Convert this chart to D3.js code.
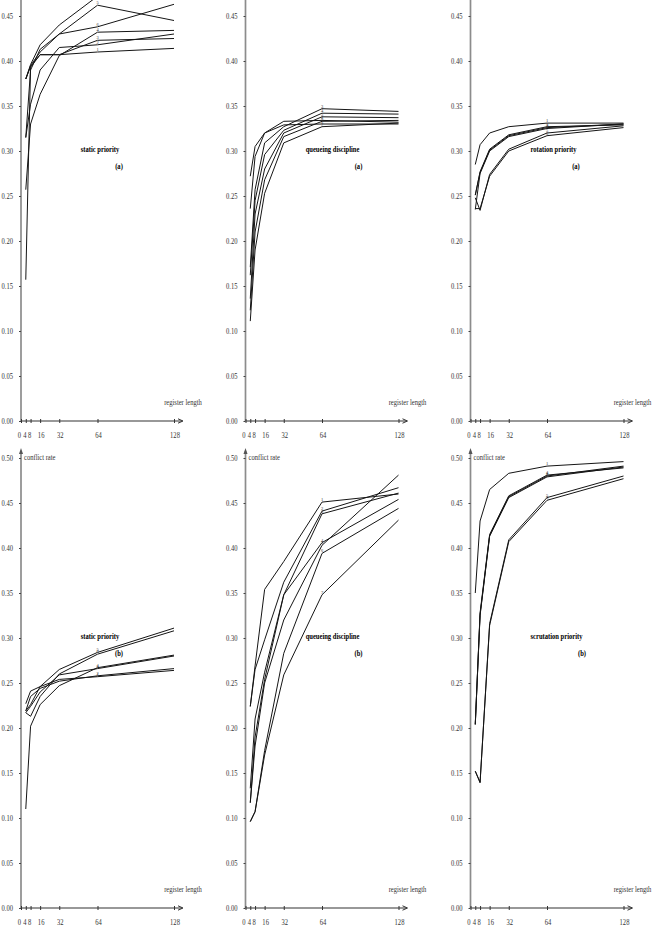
<!DOCTYPE html>
<html>
<head>
<meta charset="utf-8">
<script src="https://cdn.jsdelivr.net/npm/d3@7"></script>
<style>
  body { margin: 0; background: #fff; }
  svg { display: block; }
  text { font-family: "Liberation Serif", "Times New Roman", serif; -webkit-font-smoothing: antialiased; }
</style>
</head>
<body>
<script>
const width = 655;
const height = 943;

// register lengths at which every curve was measured
const registerLengths = [4, 8, 16, 32, 64, 128];
const xTickValues = [0, 4, 8, 16, 32, 64, 128];
const yTickValues = [0, 0.05, 0.10, 0.15, 0.20, 0.25, 0.30, 0.35, 0.40, 0.45, 0.50];

// conflict rate, one row per curve
const staticA = [
    [0.157, 0.393, 0.407, 0.407, 0.410, 0.414],
    [0.315, 0.352, 0.390, 0.415, 0.418, 0.430],
    [0.380, 0.394, 0.407, 0.407, 0.423, 0.425],
    [0.257, 0.330, 0.363, 0.406, 0.432, 0.434],
    [0.315, 0.390, 0.413, 0.430, 0.462, 0.445],
    [0.380, 0.395, 0.410, 0.430, 0.438, 0.463],
    [0.380, 0.396, 0.418, 0.440, 0.472, 0.490]
];
const queueA = [
    [0.272, 0.305, 0.320, 0.333, 0.334, 0.332],
    [0.236, 0.294, 0.320, 0.329, 0.330, 0.330],
    [0.171, 0.257, 0.309, 0.327, 0.347, 0.344],
    [0.162, 0.245, 0.296, 0.323, 0.342, 0.341],
    [0.136, 0.230, 0.280, 0.320, 0.338, 0.337],
    [0.123, 0.210, 0.268, 0.316, 0.333, 0.334],
    [0.111, 0.190, 0.253, 0.309, 0.327, 0.331]
];
const rotationA = [
    [0.285, 0.307, 0.320, 0.327, 0.331, 0.331],
    [0.251, 0.276, 0.301, 0.317, 0.326, 0.330],
    [0.251, 0.277, 0.302, 0.318, 0.327, 0.329],
    [0.235, 0.275, 0.300, 0.316, 0.325, 0.330],
    [0.248, 0.234, 0.274, 0.302, 0.320, 0.328],
    [0.236, 0.236, 0.272, 0.300, 0.317, 0.326]
];
const staticB = [
    [0.227, 0.241, 0.246, 0.254, 0.257, 0.264],
    [0.219, 0.235, 0.244, 0.252, 0.258, 0.266],
    [0.217, 0.224, 0.240, 0.259, 0.266, 0.280],
    [0.110, 0.202, 0.226, 0.247, 0.267, 0.281],
    [0.219, 0.226, 0.246, 0.265, 0.284, 0.311],
    [0.217, 0.213, 0.235, 0.260, 0.282, 0.308]
];
const queueB = [
    [0.224, 0.269, 0.354, 0.385, 0.451, 0.460],
    [0.224, 0.265, 0.298, 0.362, 0.441, 0.467],
    [0.133, 0.210, 0.262, 0.348, 0.438, 0.461],
    [0.117, 0.190, 0.254, 0.348, 0.406, 0.454],
    [0.117, 0.180, 0.250, 0.320, 0.403, 0.481],
    [0.096, 0.107, 0.175, 0.283, 0.394, 0.444],
    [0.096, 0.107, 0.170, 0.259, 0.348, 0.431]
];
const scrutationB = [
    [0.350, 0.430, 0.465, 0.483, 0.491, 0.496],
    [0.204, 0.326, 0.414, 0.457, 0.480, 0.491],
    [0.204, 0.325, 0.413, 0.456, 0.479, 0.490],
    [0.204, 0.328, 0.415, 0.458, 0.481, 0.489],
    [0.152, 0.139, 0.316, 0.409, 0.456, 0.480],
    [0.152, 0.140, 0.314, 0.407, 0.453, 0.477]
];

// layout of the six small charts
const panels = [
    { series: staticA,     title: "static priority",     tag: "(a)", ox: 21,    oy: 421, titleX: 79, tagX: 98 },
    { series: queueA,      title: "queueing discipline", tag: "(a)", ox: 245.5, oy: 421, titleX: 87, tagX: 113 },
    { series: rotationA,   title: "rotation priority",   tag: "(a)", ox: 470.5, oy: 421, titleX: 83, tagX: 105.5 },
    { series: staticB,     title: "static priority",     tag: "(b)", ox: 21,    oy: 908, titleX: 79, tagX: 98 },
    { series: queueB,      title: "queueing discipline", tag: "(b)", ox: 245.5, oy: 908, titleX: 87, tagX: 113 },
    { series: scrutationB, title: "scrutation priority", tag: "(b)", ox: 470.5, oy: 908, titleX: 86, tagX: 111.5 }
];

const svg = d3.select("body")
    .append("svg")
    .attr("width", width)
    .attr("height", height);

panels.forEach(p => {
    const x = d3.scaleLinear().domain([0, 128]).range([p.ox, p.ox + 153]);
    const y = d3.scaleLinear().domain([0, 0.5]).range([p.oy, p.oy - 450]);
    const g = svg.append("g");

    // the top row is cut by the page edge, so only ticks that land on the page
    const visibleTicks = yTickValues.filter(v => y(v) > 6);

    // y axis: gray line with arrow
    g.append("line")
        .attr("x1", p.ox).attr("x2", p.ox)
        .attr("y1", p.oy).attr("y2", p.oy - 457)
        .attr("stroke", "#8c8c8c").attr("stroke-width", 1.7);
    g.append("path")
        .attr("d", `M${p.ox - 2},${p.oy - 454} L${p.ox},${p.oy - 460} L${p.ox + 2},${p.oy - 454} Z`)
        .attr("fill", "#555");

    const yAxis = g.append("g")
        .attr("transform", `translate(${p.ox},0)`)
        .call(d3.axisLeft(y).tickValues(visibleTicks).tickSize(2).tickPadding(6).tickFormat(d3.format(".2f")));
    yAxis.select(".domain").remove();
    yAxis.selectAll("line").attr("stroke", "#444");
    yAxis.selectAll("text")
        .attr("font-family", "Liberation Serif")
        .attr("font-size", 9)
        .attr("fill", "#333");

    // x axis with arrow
    g.append("line")
        .attr("x1", p.ox).attr("x2", p.ox + 161)
        .attr("y1", p.oy).attr("y2", p.oy)
        .attr("stroke", "#333").attr("stroke-width", 1.2);
    g.append("path")
        .attr("d", `M${p.ox + 157},${p.oy - 2.2} L${p.ox + 162},${p.oy} L${p.ox + 157},${p.oy + 2.2}`)
        .attr("fill", "none").attr("stroke", "#333").attr("stroke-width", 1);

    const xAxis = g.append("g")
        .attr("transform", `translate(0,${p.oy})`)
        .call(d3.axisBottom(x).tickValues(xTickValues).tickSize(2));
    xAxis.select(".domain").remove();
    xAxis.selectAll("line").attr("y1", -2).attr("y2", 2).attr("stroke", "#333");
    xAxis.selectAll("text")
        .attr("x", d => d === 0 ? -2 : (d < 10 ? -1.4 : 0.5))
        .attr("y", 17.5)
        .attr("dy", 0)
        .attr("font-family", "Liberation Serif")
        .attr("font-size", 9)
        .attr("fill", "#333");

    // axis captions
    g.append("text")
        .attr("x", p.ox + 162).attr("y", p.oy - 15.5)
        .attr("text-anchor", "middle")
        .attr("font-size", 9).attr("fill", "#333")
        .text("register length");
    if (p.oy - 448 > 0) {
        g.append("text")
            .attr("x", p.ox + 3).attr("y", p.oy - 448)
            .attr("font-size", 9).attr("fill", "#333")
            .text("conflict rate");
    }

    // curves
    const line = d3.line()
        .x((d, i) => x(registerLengths[i]))
        .y(d => y(d));
    g.selectAll("path.curve")
        .data(p.series)
        .enter()
        .append("path")
        .attr("class", "curve")
        .attr("d", line)
        .attr("fill", "none")
        .attr("stroke", "#151515")
        .attr("stroke-width", 1)
        .attr("stroke-linejoin", "round");

    // tiny curve numbers at register length 64
    g.selectAll("text.num")
        .data(p.series.map((d, i) => ({ v: d[4], n: i + 1 })).filter(d => y(d.v) > 5))
        .enter()
        .append("text")
        .attr("class", "num")
        .attr("x", x(64))
        .attr("y", d => y(d.v) - 1)
        .attr("text-anchor", "middle")
        .attr("font-size", 4.5)
        .attr("fill", "#333")
        .text(d => d.n);

    // panel title
    g.append("text")
        .attr("x", p.ox + p.titleX).attr("y", p.oy - 269)
        .attr("text-anchor", "middle")
        .attr("font-size", 9).attr("font-weight", "bold").attr("fill", "#000")
        .text(p.title);
    g.append("text")
        .attr("x", p.ox + p.tagX).attr("y", p.oy - 251.5)
        .attr("text-anchor", "middle")
        .attr("font-size", 9).attr("font-weight", "bold").attr("fill", "#000")
        .text(p.tag);
});

// the figure's lettering is horizontally squeezed: scale each text about its anchor
svg.selectAll("text").each(function () {
    if (this.getAttribute("class") === "num") return;
    const tx = +this.getAttribute("x") || 0;
    const ty = +this.getAttribute("y") || 0;
    d3.select(this).attr("transform", `translate(${tx},${ty}) scale(0.73,1) translate(${-tx},${-ty})`);
});
</script>
</body>
</html>
